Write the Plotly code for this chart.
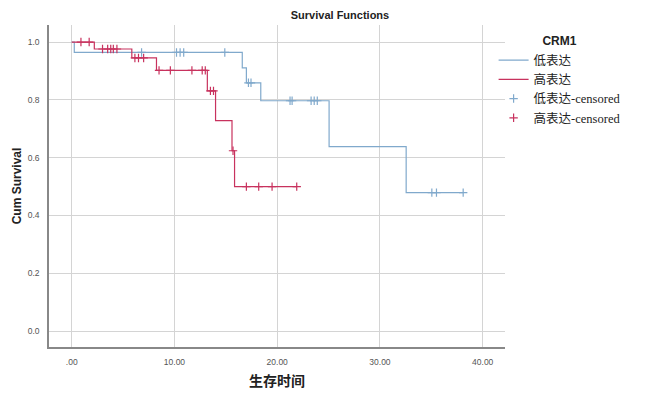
import plotly.graph_objects as go

# ---- data ----
low_time = [0, 0.25, 16.6, 17.0, 18.4, 25.05, 32.55, 38.1]
low_surv = [1.0, 0.964, 0.911, 0.859, 0.797, 0.638, 0.479, 0.479]
low_cens_time = [6.8, 10.2, 10.55, 10.9, 14.9, 17.2, 17.45, 21.25, 21.45, 23.3, 23.6, 23.9, 35.05, 35.5, 38.1]
low_cens_surv = [0.964, 0.964, 0.964, 0.964, 0.964, 0.859, 0.859, 0.797, 0.797, 0.797, 0.797, 0.797, 0.479, 0.479, 0.479]

high_time = [0, 2.2, 5.85, 8.25, 13.2, 14.0, 15.6, 15.85, 21.9]
high_surv = [1.0, 0.976, 0.945, 0.902, 0.831, 0.728, 0.624, 0.50, 0.50]
high_cens_time = [0.9, 1.7, 3.0, 3.5, 3.8, 4.05, 4.4, 6.15, 6.5, 7.0, 8.5, 9.6, 11.7, 12.7, 13.0, 13.5, 13.8, 15.7, 17.0, 18.2, 19.5, 21.9]
high_cens_surv = [1.0, 1.0, 0.976, 0.976, 0.976, 0.976, 0.976, 0.945, 0.945, 0.945, 0.902, 0.902, 0.902, 0.902, 0.902, 0.831, 0.831, 0.624, 0.50, 0.50, 0.50, 0.50]

x_ticks = [0, 10, 20, 30, 40]
x_tick_labels = [".00", "10.00", "20.00", "30.00", "40.00"]
y_ticks = [0.0, 0.2, 0.4, 0.6, 0.8, 1.0]
y_tick_labels = ["0.0", "0.2", "0.4", "0.6", "0.8", "1.0"]

names = ["低表达", "高表达", "低表达-censored", "高表达-censored"]
BLUE = "#80a9cc"
RED = "#c8325e"

fig = go.Figure()
fig.add_trace(go.Scatter(x=low_time, y=low_surv, mode="lines", line=dict(shape="hv", color=BLUE, width=1.2), name=names[0]))
fig.add_trace(go.Scatter(x=high_time, y=high_surv, mode="lines", line=dict(shape="hv", color=RED, width=1.2), name=names[1]))
fig.add_trace(go.Scatter(x=low_cens_time, y=low_cens_surv, mode="markers",
                         marker=dict(symbol="cross-thin", size=6, line=dict(color=BLUE, width=1.2)), name=names[2]))
fig.add_trace(go.Scatter(x=high_cens_time, y=high_cens_surv, mode="markers",
                         marker=dict(symbol="cross-thin", size=6, line=dict(color=RED, width=1.2)), name=names[3]))

fig.update_layout(
    width=650, height=395,
    margin=dict(l=49, r=145, t=25, b=48),
    paper_bgcolor="white", plot_bgcolor="white",
    title=dict(text="<b>Survival Functions</b>", x=340/650, xanchor="center", y=1-15/395, yanchor="middle",
               font=dict(family="Liberation Sans, Arial", size=11, color="#222")),
    xaxis=dict(range=[-2.21, 42.17], tickvals=x_ticks, ticktext=x_tick_labels, automargin=False,
               showgrid=True, gridcolor="#d4d4d4", gridwidth=1, zeroline=False,
               showline=True, linecolor="#888", linewidth=1.5,
               tickfont=dict(family="Liberation Sans, Arial", size=8.5, color="#555"),
               ticks="", ticklabelstandoff=6,
               title=dict(text="<b>生存时间</b>", font=dict(family="Noto Sans CJK SC", size=14, color="#222"), standoff=10)),
    yaxis=dict(range=[-0.055, 1.059], tickvals=y_ticks, ticktext=y_tick_labels, automargin=False,
               showgrid=True, gridcolor="#d4d4d4", gridwidth=1, zeroline=False,
               showline=True, linecolor="#888", linewidth=1.5,
               tickfont=dict(family="Liberation Sans, Arial", size=8.5, color="#555"),
               ticks="", ticklabelstandoff=6,
               title=dict(text="<b>Cum Survival</b>", font=dict(family="Liberation Sans, Arial", size=12, color="#222"), standoff=4)),
    legend=dict(x=0.975, xanchor="left", y=0.985, yanchor="top",
                title=dict(text="<b>CRM1</b>", side="top center", font=dict(family="Liberation Sans, Arial", size=12, color="#222")),
                font=dict(family="Liberation Serif, Noto Sans CJK SC", size=12.5, color="#222"),
                tracegroupgap=0, itemwidth=30, bgcolor="rgba(0,0,0,0)"),
    showlegend=True,
)

fig.write_html("out.html", config={"displayModeBar": False},
               post_script="document.body.style.margin='0';")
